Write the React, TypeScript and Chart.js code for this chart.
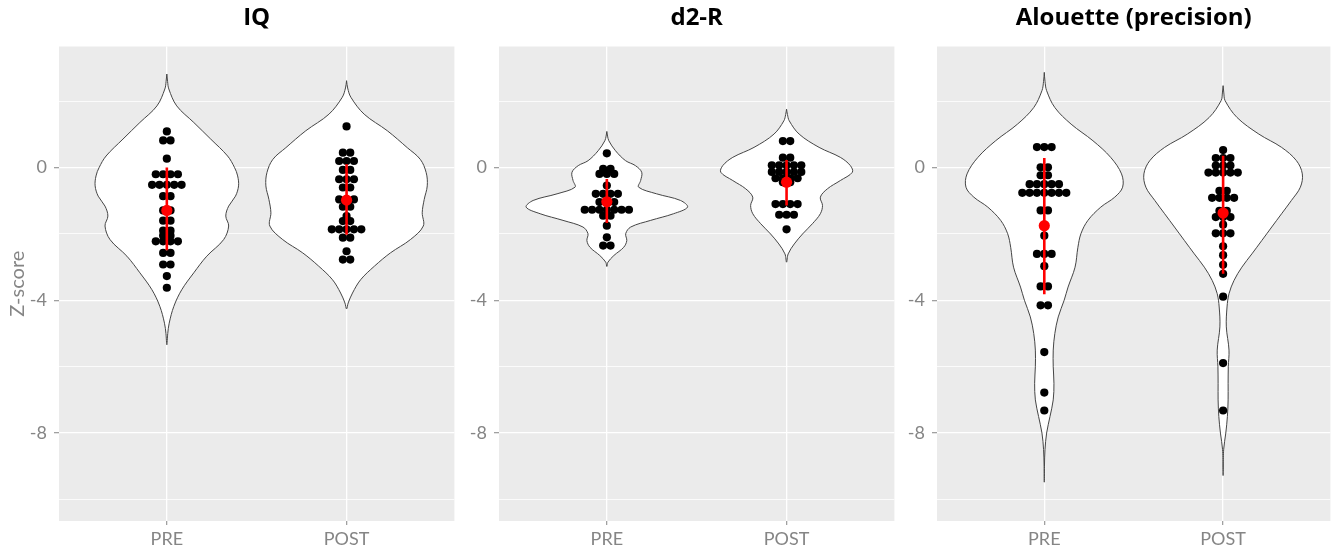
import React, { useEffect, useRef } from 'react';
import { Chart, registerables } from 'chart.js';

Chart.register(...registerables);

// ---------- data ----------
const CATEGORIES = ['PRE', 'POST'];
const TITLES = ['IQ', 'd2-R', 'Alouette (precision)'];
const Y_MAJOR = [0, -4, -8];
const Y_MINOR = [2, -2, -6, -10];

// individual z-scores (dot plot)
const IQ_PRE = [1.09, 0.82, 0.82, 0.27, -0.2, -0.2, -0.2, -0.2, -0.52, -0.52, -0.52, -0.52, -0.52, -0.86, -0.86, -1.29, -1.29, -1.6, -1.6, -1.9, -1.9, -2.05, -2.05, -2.22, -2.22, -2.22, -2.22, -2.57, -2.57, -2.92, -2.92, -3.27, -3.62];
const IQ_POST = [1.24, 0.45, 0.45, 0.2, 0.2, 0.2, -0.07, -0.07, -0.35, -0.35, -0.35, -0.6, -0.6, -0.96, -0.96, -0.96, -1.18, -1.18, -1.46, -1.61, -1.61, -1.86, -1.86, -1.86, -1.86, -1.86, -2.11, -2.11, -2.52, -2.77, -2.77];
const D2R_PRE = [0.43, -0.04, -0.04, -0.19, -0.19, -0.19, -0.54, -0.79, -0.79, -0.79, -0.79, -1.04, -1.04, -1.04, -1.27, -1.27, -1.27, -1.27, -1.27, -1.27, -1.27, -1.45, -1.45, -1.75, -2.1, -2.35, -2.35];
const D2R_POST = [0.8, 0.8, 0.3, 0.3, 0.07, 0.07, 0.07, 0.07, 0.07, -0.13, -0.13, -0.13, -0.13, -0.13, -0.32, -0.32, -0.32, -0.32, -0.44, -0.44, -1.1, -1.1, -1.1, -1.1, -1.42, -1.42, -1.42, -1.86];
const ALOU_PRE = [0.62, 0.62, 0.62, 0.01, 0.01, -0.23, -0.23, -0.5, -0.5, -0.5, -0.5, -0.5, -0.76, -0.76, -0.76, -0.76, -0.76, -0.76, -0.76, -1.29, -1.29, -1.74, -2.05, -2.6, -2.6, -2.6, -2.97, -3.58, -3.58, -4.15, -4.15, -5.56, -6.78, -7.32];
const ALOU_POST = [0.53, 0.29, 0.29, 0.29, 0.06, 0.06, 0.06, -0.15, -0.15, -0.15, -0.15, -0.15, -0.7, -0.7, -0.91, -0.91, -0.91, -0.91, -1.3, -1.3, -1.49, -1.49, -1.49, -1.72, -1.98, -1.98, -1.98, -2.37, -2.64, -2.93, -3.2, -3.89, -5.89, -7.32];

// violin outlines: y levels and half-widths (in category units)
const IQ_PRE_VY = [2.82, 2.6, 2.37, 1.86, 1.36, 0.86, 0.35, 0, -0.25, -0.55, -0.86, -1.16, -1.46, -1.76, -2.17, -2.67, -3.17, -3.68, -4.18, -4.69, -5.0, -5.34];
const IQ_PRE_VW = [0, 0.004, 0.011, 0.055, 0.15, 0.244, 0.338, 0.377, 0.394, 0.399, 0.382, 0.344, 0.328, 0.344, 0.316, 0.222, 0.15, 0.083, 0.039, 0.013, 0.005, 0];
const IQ_POST_VY = [2.62, 2.4, 2.12, 1.61, 1.11, 0.6, 0.25, -0.15, -0.55, -0.96, -1.36, -1.76, -2.17, -2.57, -2.97, -3.38, -3.78, -4.08, -4.26];
const IQ_POST_VW = [0, 0.006, 0.024, 0.098, 0.227, 0.338, 0.41, 0.443, 0.449, 0.432, 0.421, 0.427, 0.355, 0.244, 0.155, 0.078, 0.033, 0.009, 0];
const D2R_PRE_VY = [1.09, 0.95, 0.81, 0.51, 0.21, 0.06, -0.14, -0.39, -0.59, -0.79, -0.99, -1.19, -1.39, -1.59, -1.79, -1.99, -2.2, -2.4, -2.65, -2.85, -2.98];
const D2R_PRE_VW = [0, 0.004, 0.011, 0.048, 0.104, 0.159, 0.194, 0.188, 0.177, 0.277, 0.41, 0.449, 0.371, 0.244, 0.133, 0.105, 0.111, 0.094, 0.039, 0.006, 0];
const D2R_POST_VY = [1.76, 1.6, 1.41, 1.01, 0.61, 0.31, 0.06, -0.14, -0.39, -0.64, -0.89, -1.14, -1.39, -1.69, -2.0, -2.3, -2.6, -2.85];
const D2R_POST_VW = [0, 0.005, 0.015, 0.07, 0.181, 0.299, 0.355, 0.366, 0.299, 0.227, 0.188, 0.2, 0.188, 0.144, 0.089, 0.043, 0.009, 0];
const ALOU_PRE_VY = [2.87, 2.6, 2.32, 1.81, 1.31, 0.81, 0.31, -0.19, -0.59, -0.89, -1.19, -1.59, -1.99, -2.4, -3.0, -3.6, -4.0, -4.5, -5.0, -5.5, -6.0, -6.5, -7.0, -7.5, -8.0, -8.5, -9.0, -9.48];
const ALOU_PRE_VW = [0, 0.004, 0.013, 0.059, 0.15, 0.272, 0.371, 0.432, 0.438, 0.394, 0.316, 0.244, 0.205, 0.188, 0.172, 0.133, 0.111, 0.078, 0.059, 0.05, 0.05, 0.054, 0.05, 0.032, 0.013, 0.004, 0.001, 0];
const ALOU_POST_VY = [2.47, 2.25, 2.02, 1.51, 1.01, 0.61, 0.21, -0.19, -0.59, -0.99, -1.39, -1.79, -2.2, -2.6, -3.0, -3.4, -3.8, -4.2, -4.8, -5.5, -6.0, -6.5, -7.0, -7.5, -8.0, -8.5, -9.28];
const ALOU_POST_VW = [0, 0.004, 0.011, 0.078, 0.2, 0.327, 0.41, 0.443, 0.432, 0.382, 0.327, 0.272, 0.216, 0.161, 0.105, 0.061, 0.033, 0.022, 0.018, 0.033, 0.029, 0.028, 0.028, 0.024, 0.015, 0.003, 0];

// mean and error bar ends [PRE, POST]
const IQ_MEAN = [-1.29, -0.98];
const IQ_LOW = [-2.49, -2.02];
const IQ_HIGH = [0.0, 0.1];
const D2R_MEAN = [-1.03, -0.44];
const D2R_LOW = [-1.67, -1.14];
const D2R_HIGH = [-0.34, 0.23];
const ALOU_MEAN = [-1.75, -1.37];
const ALOU_LOW = [-3.82, -3.2];
const ALOU_HIGH = [0.29, 0.36];

// ---------- styles / layout ----------
const FONT = 'Lato, "Open Sans", sans-serif';
const TITLE_FONT = '"Open Sans", Lato, sans-serif';
const AXIS_GREY = '#858585';
const PANEL_BG = '#EBEBEB';
const DOT_STEP = 0.041;
const Y_MIN = -10.65;
const Y_MAX = 3.65;
const BOXES = [
  { left: 0, width: 460, yAxisW: 59, padR: 4 },
  { left: 460, width: 440, yAxisW: 39, padR: 4 },
  { left: 900, width: 436, yAxisW: 37, padR: 2 },
];

const PANELS = [
  { title: TITLES[0], groups: [IQ_PRE, IQ_POST], vy: [IQ_PRE_VY, IQ_POST_VY], vw: [IQ_PRE_VW, IQ_POST_VW], mean: IQ_MEAN, low: IQ_LOW, high: IQ_HIGH, yTitle: 'Z-score' },
  { title: TITLES[1], groups: [D2R_PRE, D2R_POST], vy: [D2R_PRE_VY, D2R_POST_VY], vw: [D2R_PRE_VW, D2R_POST_VW], mean: D2R_MEAN, low: D2R_LOW, high: D2R_HIGH, yTitle: '' },
  { title: TITLES[2], groups: [ALOU_PRE, ALOU_POST], vy: [ALOU_PRE_VY, ALOU_POST_VY], vw: [ALOU_PRE_VW, ALOU_POST_VW], mean: ALOU_MEAN, low: ALOU_LOW, high: ALOU_HIGH, yTitle: '' },
];

function violinPoints(c: number, ys: number[], ws: number[]) {
  const left = ys.map((y, i) => ({ x: c - ws[i], y }));
  const right = ys.slice(1, -1).map((y, i) => ({ x: c + ws[i + 1], y })).reverse();
  return [...left, ...right, left[0]];
}

function dotPoints(c: number, values: number[]) {
  const counts = new Map<number, number>();
  values.forEach((v) => counts.set(v, (counts.get(v) || 0) + 1));
  const pts: { x: number; y: number }[] = [];
  counts.forEach((n, v) => {
    for (let i = 0; i < n; i++) pts.push({ x: c + (i - (n - 1) / 2) * DOT_STEP, y: v });
  });
  return pts;
}

const panelBg = {
  id: 'panelBg',
  beforeDraw(chart: any) {
    const { ctx, chartArea: a } = chart;
    ctx.save();
    ctx.fillStyle = PANEL_BG;
    ctx.fillRect(a.left, a.top, a.right - a.left, a.bottom - a.top);
    ctx.restore();
  },
};

function buildConfig(p: (typeof PANELS)[number], box: (typeof BOXES)[number]): any {
  const datasets: any[] = [];
  CATEGORIES.forEach((_, gi) => {
    const c = gi + 1;
    datasets.push({
      type: 'line',
      data: violinPoints(c, p.vy[gi], p.vw[gi]),
      borderColor: '#454545',
      borderWidth: 1,
      backgroundColor: '#ffffff',
      fill: 'shape',
      tension: 0.35,
      pointRadius: 0,
      order: 10,
    });
    datasets.push({
      type: 'scatter',
      data: dotPoints(c, p.groups[gi]),
      backgroundColor: '#000000',
      borderWidth: 0,
      pointRadius: 4.1,
      order: 5,
    });
    datasets.push({
      type: 'line',
      data: [{ x: c, y: p.low[gi] }, { x: c, y: p.high[gi] }],
      borderColor: '#FF0000',
      borderWidth: 2.6,
      pointRadius: 0,
      fill: false,
      tension: 0,
      order: 2,
    });
    datasets.push({
      type: 'scatter',
      data: [{ x: c, y: p.mean[gi] }],
      backgroundColor: '#FF0000',
      borderWidth: 0,
      pointRadius: 5.6,
      order: 1,
    });
  });

  return {
    type: 'scatter',
    data: { datasets },
    options: {
      animation: false,
      responsive: false,
      maintainAspectRatio: false,
      events: [],
      layout: { padding: { left: 0, right: box.padR, top: 0, bottom: 0 } },
      plugins: {
        legend: { display: false },
        tooltip: { enabled: false },
        title: {
          display: true,
          text: p.title,
          fullSize: false,
          color: '#000000',
          font: { family: TITLE_FONT, size: 24, weight: 'bold', lineHeight: 1.2 },
          padding: { top: 4, bottom: 13.7 },
        },
      },
      scales: {
        x: {
          type: 'linear',
          min: 0.4,
          max: 2.6,
          afterBuildTicks: (s: any) => {
            s.ticks = CATEGORIES.map((_, i) => ({ value: i + 1 }));
          },
          afterFit: (s: any) => {
            s.height = 31;
          },
          ticks: {
            autoSkip: false,
            maxRotation: 0,
            padding: 3,
            color: AXIS_GREY,
            font: { family: FONT, size: 18 },
            callback: (v: any) => CATEGORIES[Math.round(v) - 1] ?? '',
          },
          grid: { color: '#ffffff', lineWidth: 1.3, tickColor: '#a0a0a0', tickLength: 4 },
          border: { display: false },
        },
        y: {
          type: 'linear',
          min: Y_MIN,
          max: Y_MAX,
          afterBuildTicks: (s: any) => {
            s.ticks = [...Y_MINOR, ...Y_MAJOR].sort((a, b) => a - b).map((v) => ({ value: v }));
          },
          afterFit: (s: any) => {
            s.width = box.yAxisW;
          },
          title: {
            display: !!p.yTitle,
            text: p.yTitle,
            color: AXIS_GREY,
            font: { family: FONT, size: 20 },
            padding: { top: 6, bottom: 0 },
          },
          ticks: {
            autoSkip: false,
            padding: 7,
            color: AXIS_GREY,
            font: { family: FONT, size: 18 },
            callback: (v: any) => (Y_MAJOR.includes(v) ? String(v) : ''),
          },
          grid: {
            color: '#ffffff',
            lineWidth: (ctx: any) => (Y_MAJOR.includes(ctx.tick?.value) ? 1.3 : 0.8),
            tickColor: (ctx: any) => (Y_MAJOR.includes(ctx.tick?.value) ? '#a0a0a0' : 'rgba(0,0,0,0)'),
            tickLength: 5,
          },
          border: { display: false },
        },
      },
    },
    plugins: [panelBg],
  };
}

export default function App() {
  const refs = [useRef<HTMLCanvasElement>(null), useRef<HTMLCanvasElement>(null), useRef<HTMLCanvasElement>(null)];

  useEffect(() => {
    const charts = PANELS.map((p, i) => new Chart(refs[i].current as HTMLCanvasElement, buildConfig(p, BOXES[i])));
    return () => charts.forEach((c) => c.destroy());
  }, []);

  return (
    <div style={{ position: 'fixed', left: 0, top: 0, width: 1336, height: 552, background: '#ffffff', overflow: 'hidden' }}>
      {BOXES.map((b, i) => (
        <canvas
          key={i}
          ref={refs[i]}
          width={b.width}
          height={552}
          style={{ position: 'absolute', left: b.left, top: 0, width: b.width, height: 552 }}
        />
      ))}
    </div>
  );
}
